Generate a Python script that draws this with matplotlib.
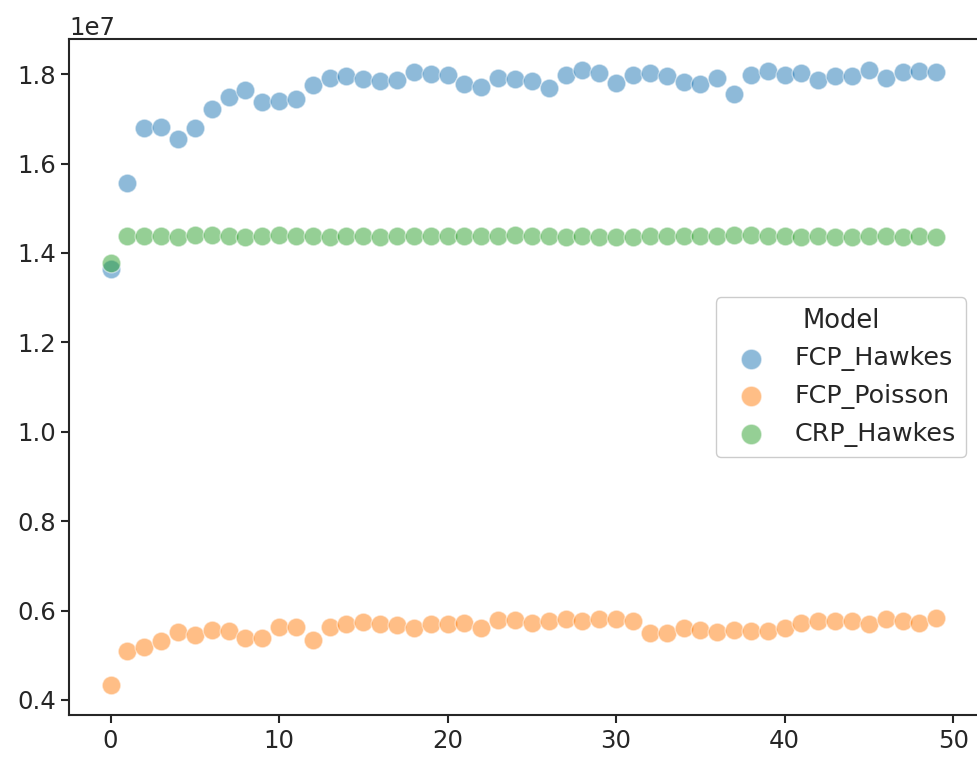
import numpy as np
import matplotlib
matplotlib.use("Agg")
import matplotlib.pyplot as plt


iterations = np.arange(50)

fcp_hawkes = [1.365, 1.556, 1.680, 1.681, 1.654, 1.680, 1.723, 1.749, 1.765, 1.737,
              1.740, 1.745, 1.775, 1.792, 1.795, 1.789, 1.784, 1.787, 1.804, 1.801,
              1.798, 1.779, 1.772, 1.791, 1.789, 1.785, 1.769, 1.799, 1.810, 1.802,
              1.781, 1.798, 1.803, 1.795, 1.783, 1.777, 1.791, 1.756, 1.798, 1.807,
              1.798, 1.802, 1.787, 1.796, 1.796, 1.809, 1.791, 1.804, 1.808, 1.804]

fcp_poisson = [0.434, 0.510, 0.518, 0.531, 0.553, 0.545, 0.557, 0.555, 0.539, 0.538,
               0.563, 0.563, 0.534, 0.564, 0.571, 0.574, 0.570, 0.567, 0.561, 0.569,
               0.569, 0.572, 0.561, 0.578, 0.578, 0.572, 0.576, 0.580, 0.576, 0.581,
               0.580, 0.576, 0.549, 0.549, 0.562, 0.557, 0.552, 0.556, 0.555, 0.554,
               0.561, 0.572, 0.577, 0.577, 0.577, 0.569, 0.581, 0.577, 0.573, 0.584]

crp_hawkes = [1.378, 1.437, 1.437, 1.437, 1.435, 1.440, 1.440, 1.438, 1.435, 1.437,
              1.440, 1.439, 1.437, 1.436, 1.439, 1.437, 1.435, 1.437, 1.439, 1.438,
              1.438, 1.437, 1.438, 1.437, 1.440, 1.437, 1.437, 1.435, 1.437, 1.435,
              1.435, 1.435, 1.437, 1.438, 1.437, 1.437, 1.438, 1.441, 1.440, 1.437,
              1.437, 1.435, 1.437, 1.435, 1.435, 1.437, 1.438, 1.435, 1.437, 1.435]

models = ["FCP_Hawkes", "FCP_Poisson", "CRP_Hawkes"]
colors = ["#1f77b4", "#ff7f0e", "#2ca02c"]

ink = "#262626"
plt.rcParams.update({
    "font.family": "DejaVu Sans",
    "font.size": 17.6,
    "text.color": ink,
    "axes.edgecolor": ink,
    "axes.linewidth": 1.5,
    "xtick.color": ink,
    "ytick.color": ink,
    "xtick.major.size": 6,
    "ytick.major.size": 6,
    "xtick.major.width": 1.5,
    "ytick.major.width": 1.5,
})

fig = plt.figure(figsize=(9.77, 7.61), dpi=100)
ax = fig.add_axes([0.0709, 0.0598, 0.9297, 0.889])
# the right edge falls off the saved figure
ax.spines["right"].set_visible(False)

for name, vals, c in zip(models, [fcp_hawkes, fcp_poisson, crp_hawkes], colors):
    ax.scatter(iterations, np.array(vals) * 1e7, s=180, color=c, alpha=0.5,
               edgecolors="white", linewidths=1.0, label=name)

ax.set_xticks([0, 10, 20, 30, 40, 50])
ax.set_yticks(np.arange(0.4, 1.81, 0.2) * 1e7)

leg = ax.legend(title="Model", loc="center right", handlelength=1.95,
                handletextpad=0.75, labelspacing=0.5, borderaxespad=0.45,
                fontsize=18.3, title_fontsize=18.6, frameon=True,
                markerscale=1.1, edgecolor="#cccccc", framealpha=1.0)

fig.savefig("out.png", dpi=100)
